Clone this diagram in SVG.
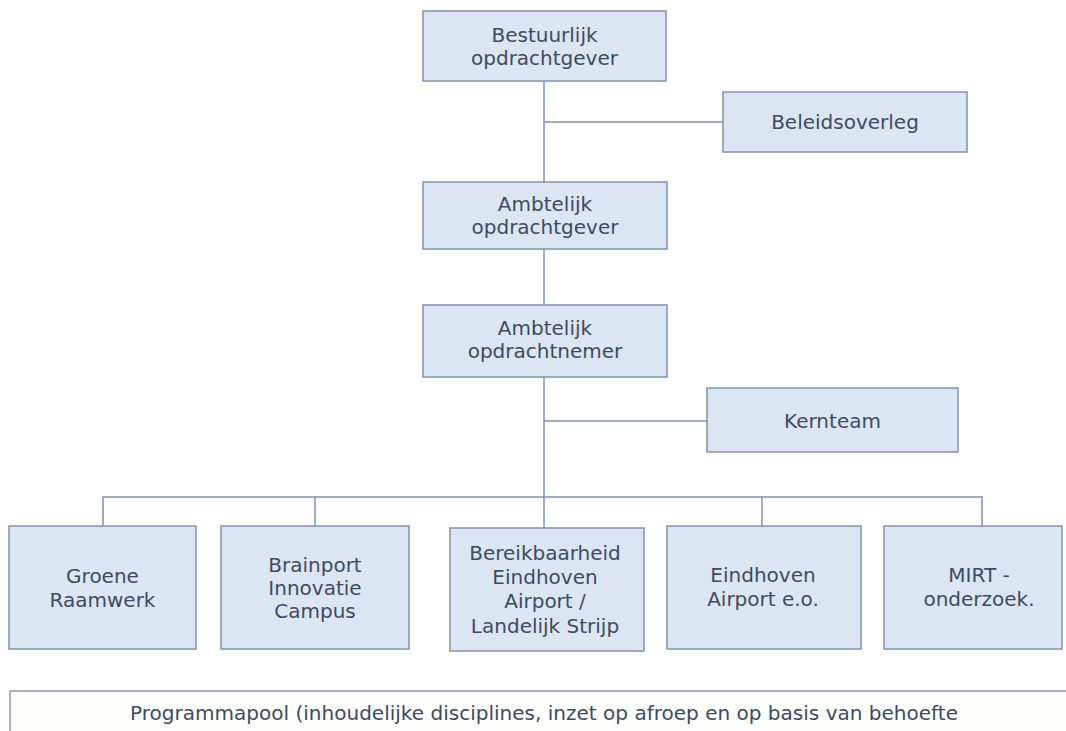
<svg xmlns="http://www.w3.org/2000/svg" width="1066" height="731" viewBox="0 0 1066 731">
  <style>
    .box { fill: #dce6f2; stroke: #7f93ae; stroke-width: 1.5; }
    .pool { fill: #fefefc; stroke: #8e9aa8; stroke-width: 1.5; }
    .lbl { font-family: "DejaVu Sans", Verdana, sans-serif; font-size: 20px; fill: #3c4b63; text-anchor: middle; }
    .wire { stroke: #7f93ae; stroke-width: 1.5; fill: none; }
  </style>
  <rect width="1066" height="731" fill="#ffffff"/>

  <!-- connectors -->
  <g id="connectors">
    <path class="wire" d="M544 81 V182"/>
    <path class="wire" d="M544 122 H723"/>
    <path class="wire" d="M544 249 V305"/>
    <path class="wire" d="M544 377 V528"/>
    <path class="wire" d="M544 421 H707"/>
    <path class="wire" d="M103 526 V497 H982 V526"/>
    <path class="wire" d="M315 497 V526"/>
    <path class="wire" d="M762 497 V526"/>
  </g>

  <g id="bestuurlijk-opdrachtgever">
    <rect class="box" x="423" y="11" width="243" height="70"/>
    <text class="lbl" x="544.5" y="42">Bestuurlijk</text>
    <text class="lbl" x="544.5" y="65">opdrachtgever</text>
  </g>

  <g id="beleidsoverleg">
    <rect class="box" x="723" y="92" width="244" height="60"/>
    <text class="lbl" x="845" y="129">Beleidsoverleg</text>
  </g>

  <g id="ambtelijk-opdrachtgever">
    <rect class="box" x="423" y="182" width="244" height="67"/>
    <text class="lbl" x="545" y="211">Ambtelijk</text>
    <text class="lbl" x="545" y="234">opdrachtgever</text>
  </g>

  <g id="ambtelijk-opdrachtnemer">
    <rect class="box" x="423" y="305" width="244" height="72"/>
    <text class="lbl" x="545" y="335">Ambtelijk</text>
    <text class="lbl" x="545" y="358">opdrachtnemer</text>
  </g>

  <g id="kernteam">
    <rect class="box" x="707" y="388" width="251" height="64"/>
    <text class="lbl" x="832.5" y="428">Kernteam</text>
  </g>

  <g id="groene-raamwerk">
    <rect class="box" x="9" y="526" width="187" height="123"/>
    <text class="lbl" x="102.5" y="583">Groene</text>
    <text class="lbl" x="102.5" y="607">Raamwerk</text>
  </g>

  <g id="brainport-innovatie-campus">
    <rect class="box" x="221" y="526" width="188" height="123"/>
    <text class="lbl" x="315" y="572">Brainport</text>
    <text class="lbl" x="315" y="595">Innovatie</text>
    <text class="lbl" x="315" y="618">Campus</text>
  </g>

  <g id="bereikbaarheid">
    <rect class="box" x="450" y="528" width="194" height="123"/>
    <text class="lbl" x="545" y="560">Bereikbaarheid</text>
    <text class="lbl" x="545" y="584">Eindhoven</text>
    <text class="lbl" x="545" y="608">Airport /</text>
    <text class="lbl" x="545" y="633">Landelijk Strijp</text>
  </g>

  <g id="eindhoven-airport">
    <rect class="box" x="667" y="526" width="194" height="123"/>
    <text class="lbl" x="763" y="582">Eindhoven</text>
    <text class="lbl" x="763" y="606">Airport e.o.</text>
  </g>

  <g id="mirt-onderzoek">
    <rect class="box" x="884" y="526" width="178" height="123"/>
    <text class="lbl" x="979" y="582">MIRT -</text>
    <text class="lbl" x="979" y="606">onderzoek.</text>
  </g>

  <g id="programmapool">
    <rect class="pool" x="10" y="691" width="1070" height="50"/>
    <text class="lbl" x="544" y="720" textLength="828" lengthAdjust="spacingAndGlyphs">Programmapool (inhoudelijke disciplines, inzet op afroep en op basis van behoefte</text>
  </g>
</svg>
